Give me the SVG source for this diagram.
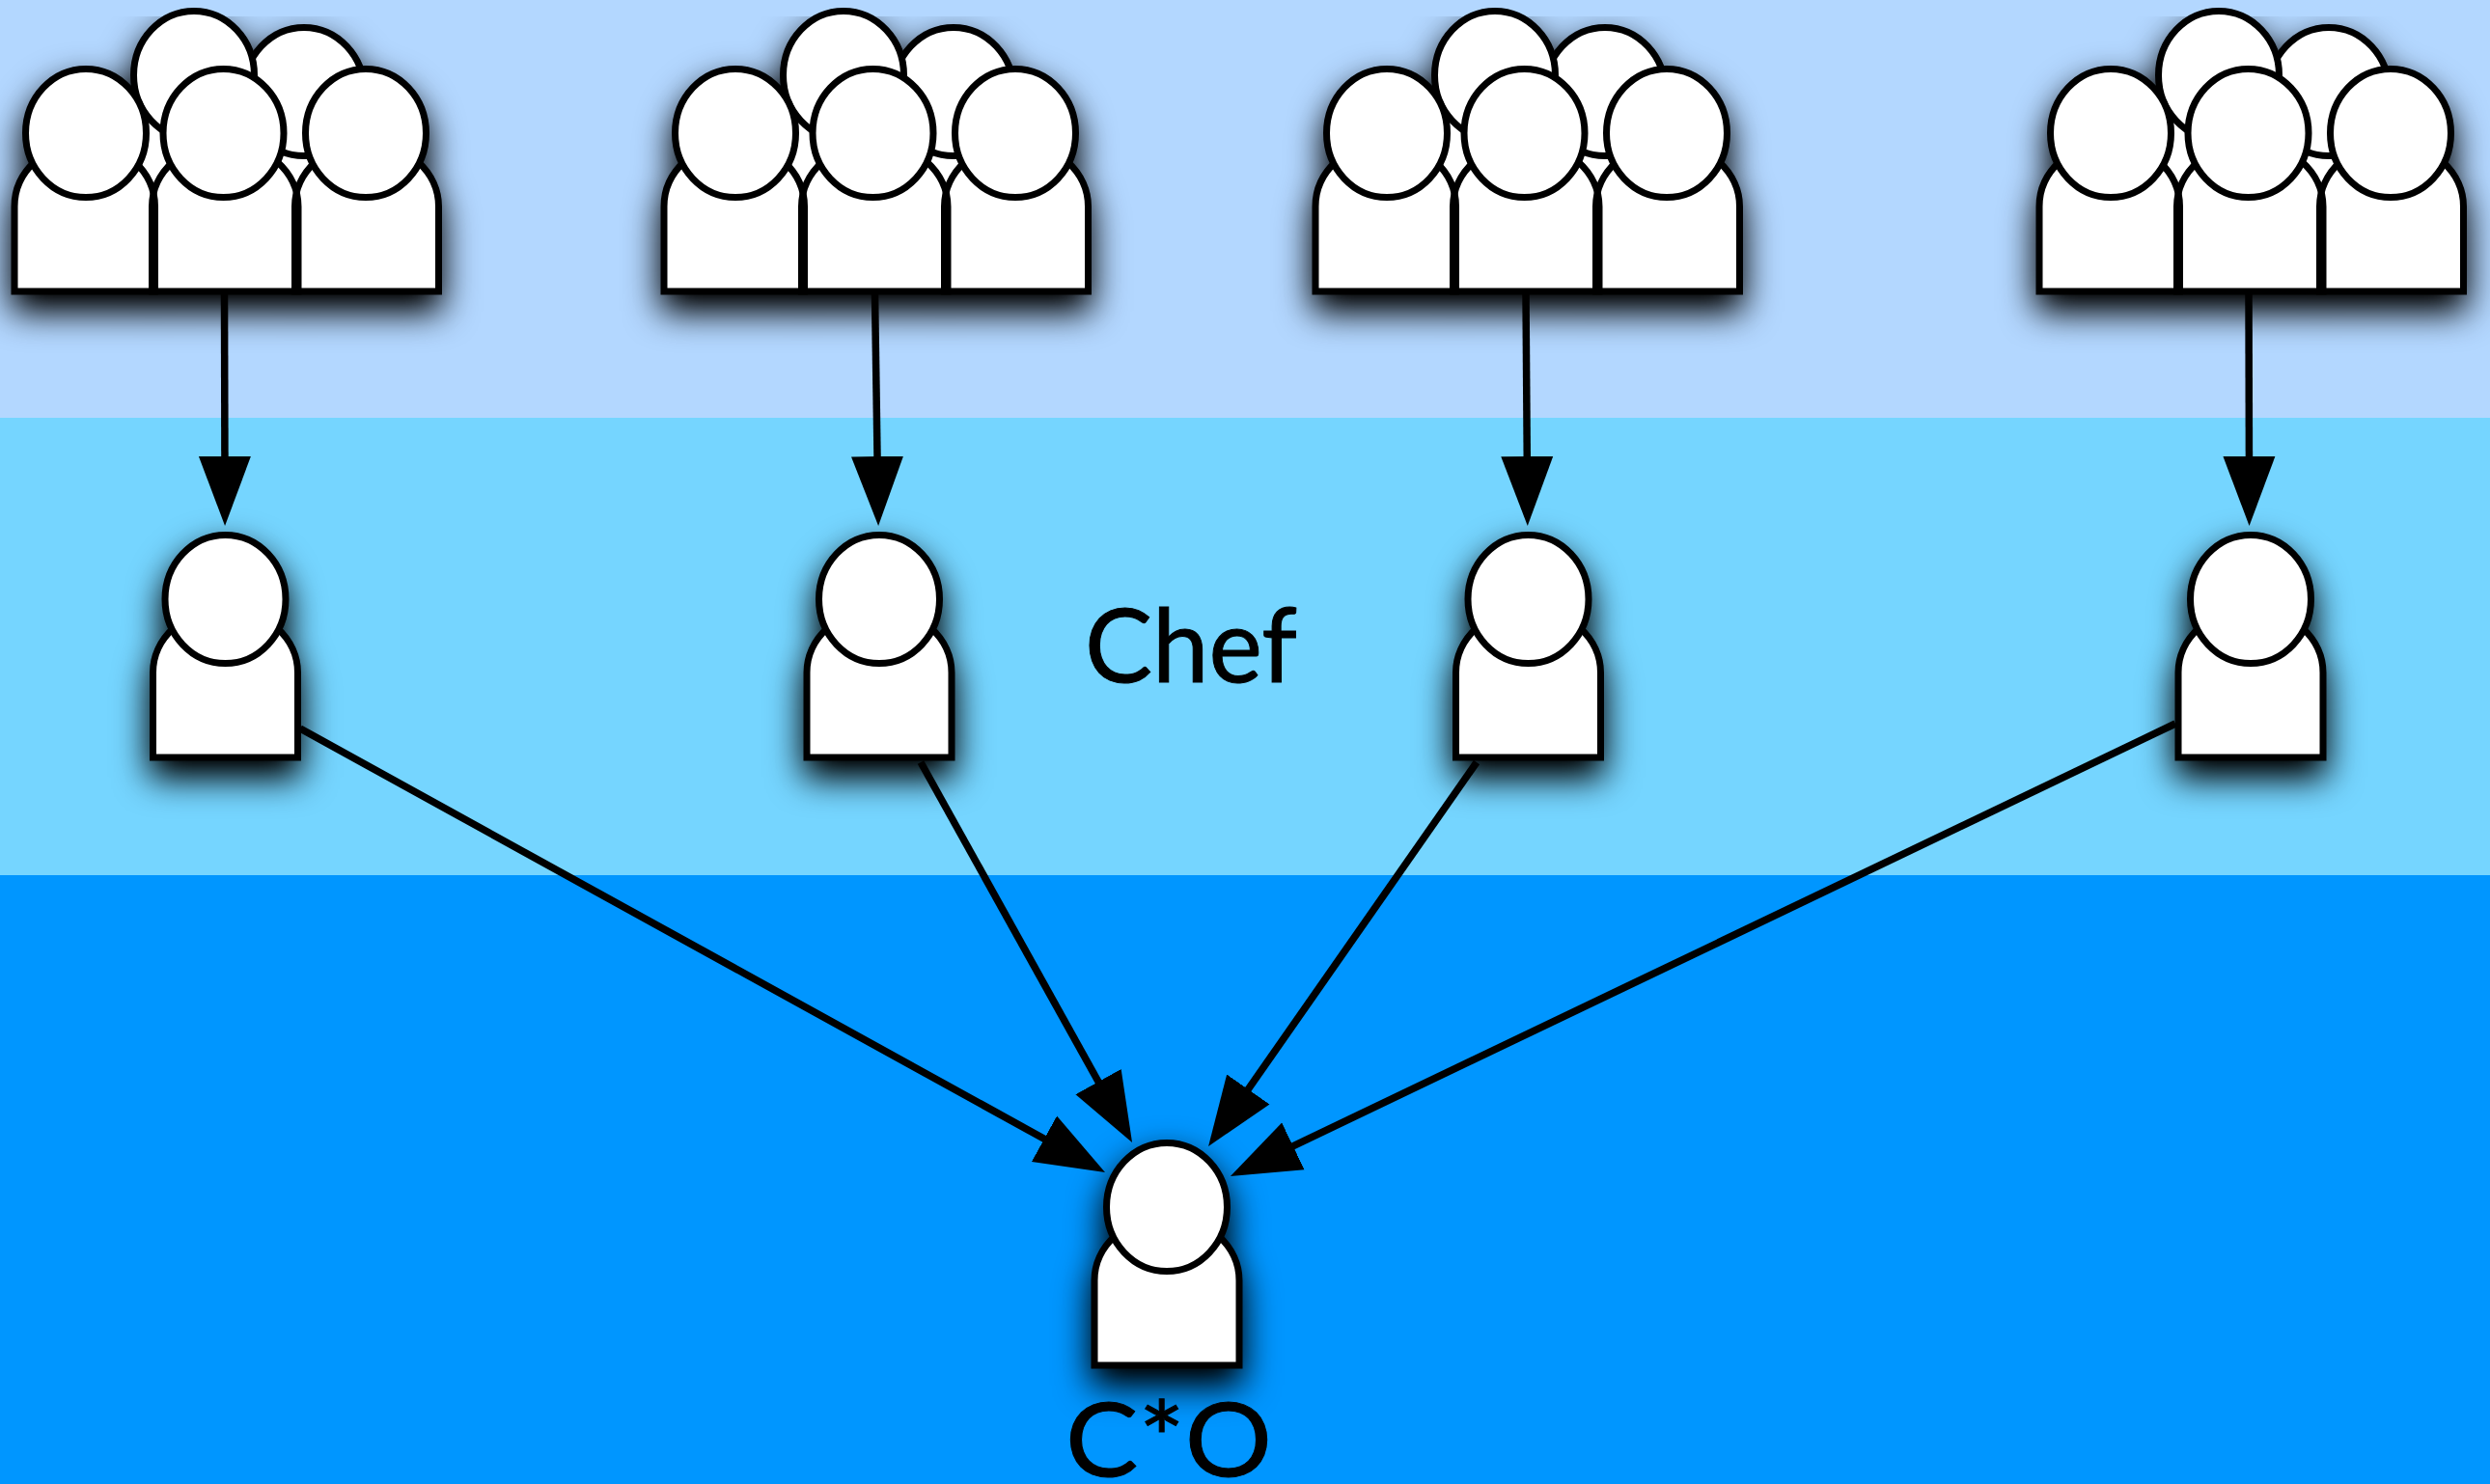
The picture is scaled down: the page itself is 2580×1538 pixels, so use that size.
<svg xmlns="http://www.w3.org/2000/svg" width="2580" height="1538" viewBox="0 0 2580 1538">
<style>
.o{fill:#fff;stroke:#000;stroke-width:7}
.f{fill:#fff}
.s{fill:none;stroke:#000;stroke-width:7;stroke-linejoin:miter}
.c{fill:none;stroke:#000;stroke-width:7.5;marker-end:url(#arrow)}
.t{font-family:Lato,"Liberation Sans",sans-serif;font-size:107px;fill:#000;stroke:#000;stroke-width:1;text-anchor:middle}
.sh{filter:url(#shadow)}
</style>
<defs>
<filter id="shadow" filterUnits="userSpaceOnUse" x="0" y="0" width="2580" height="1538" color-interpolation-filters="sRGB">
<feGaussianBlur in="SourceAlpha" stdDeviation="18" result="b"/>
<feOffset in="b" dx="0" dy="17" result="o"/>
<feComponentTransfer in="o" result="k"><feFuncA type="linear" slope="1.1"/></feComponentTransfer>
<feMerge><feMergeNode in="k"/><feMergeNode in="SourceGraphic"/></feMerge>
</filter>
<marker id="arrow" markerUnits="userSpaceOnUse" markerWidth="80" markerHeight="60" viewBox="0 -30 80 60" refX="32" refY="0" orient="auto">
<path d="M0,-27 L72,0 L0,27 Z" fill="#000"/>
</marker>
<g id="person">
<path class="o" d="M-75,0 V-88 A75,66 0 0 1 75,-88 V0 Z"/>
<ellipse class="o" cx="0" cy="-164" rx="62.5" ry="66.5"/>
</g>
<path id="bl" d="M15,302 V214 A72.75,66 0 0 1 160.5,214 V302 Z"/>
<path id="bm" d="M157.5,302 V214 A75.75,66 0 0 1 309,214 V302 Z"/>
<path id="br" d="M305.5,302 V214 A74.5,66 0 0 1 454.5,214 V302 Z"/>
<g id="crowd">
<path class="o" d="M126,242 V156 A75,66 0 0 1 276,156 V242 Z"/>
<path class="o" d="M240,242 V173 A75,66 0 0 1 390,173 V242 Z"/>
<ellipse class="o" cx="315" cy="95" rx="62.5" ry="66.5"/>
<ellipse class="o" cx="201" cy="78" rx="62.5" ry="66.5"/>
<use href="#bl" class="f"/><use href="#bm" class="f"/><use href="#br" class="f"/>
<use href="#bl" class="s"/><use href="#bm" class="s"/><use href="#br" class="s"/>
<ellipse class="o" cx="89" cy="138" rx="62.5" ry="66.5"/>
<ellipse class="o" cx="379" cy="138" rx="62.5" ry="66.5"/>
<ellipse class="o" cx="231.5" cy="138" rx="62.5" ry="66.5"/>
</g>
</defs>
<g id="bands">
<rect x="0" y="0" width="2580" height="433" fill="#b3d7ff"/>
<rect x="0" y="433" width="2580" height="474" fill="#75d5ff"/>
<rect x="0" y="907" width="2580" height="631" fill="#0096ff"/>
</g>
<g id="crowd1" class="sh"><use href="#crowd"/></g>
<g id="crowd2" class="sh"><use href="#crowd" x="673"/></g>
<g id="crowd3" class="sh"><use href="#crowd" x="1348"/></g>
<g id="crowd4" class="sh"><use href="#crowd" x="2098"/></g>
<g id="chef1" class="sh"><use href="#person" x="233.5" y="785"/></g>
<g id="chef2" class="sh"><use href="#person" x="911" y="785"/></g>
<g id="chef3" class="sh"><use href="#person" x="1583.5" y="785"/></g>
<g id="chef4" class="sh"><use href="#person" x="2332" y="785"/></g>
<g id="cxo" class="sh"><use href="#person" x="1209" y="1415"/></g>
<g id="connectors">
<path class="c" d="M232.5,304 L233,505"/>
<path class="c" d="M906.5,304 L909.5,505"/>
<path class="c" d="M1581,304 L1582.5,505"/>
<path class="c" d="M2330,304 L2330.5,505"/>
<path class="c" d="M311,755 L1110,1195.7"/>
<path class="c" d="M954,790 L1153.6,1149"/>
<path class="c" d="M1530,790 L1275,1155.2"/>
<path class="c" d="M2254,750 L1311,1201.7"/>
</g>
<text id="label-chef" class="t" x="1234" y="707" textLength="220" lengthAdjust="spacingAndGlyphs">Chef</text>
<text id="label-cxo" class="t" x="1211" y="1530" textLength="214" lengthAdjust="spacingAndGlyphs">C*O</text>
</svg>
